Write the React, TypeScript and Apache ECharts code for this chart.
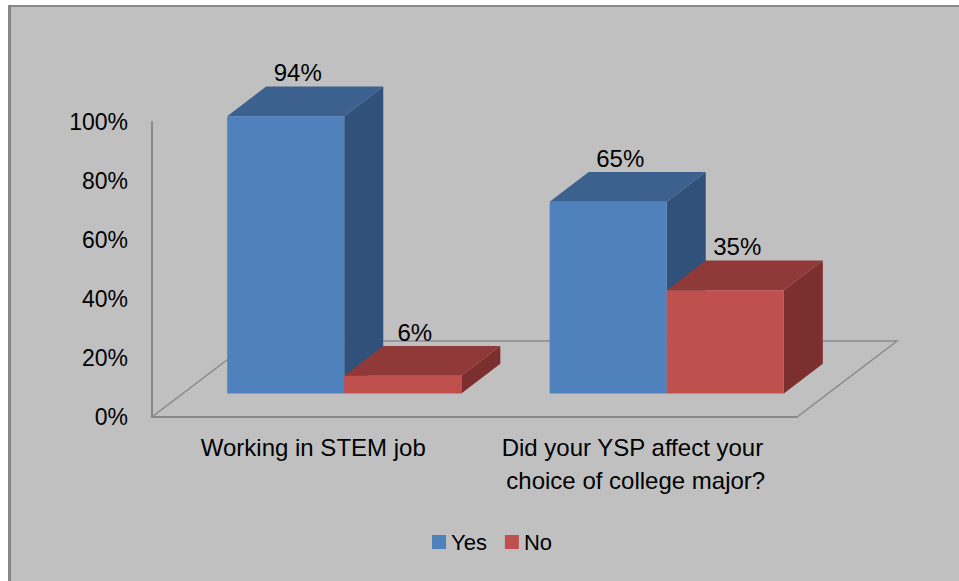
import React, { useEffect, useRef } from "react";
import * as echarts from "echarts";

const categories = ["Working in STEM job", "Did your YSP affect your choice of college major?"];
const yesValues = [0.94, 0.65];
const noValues = [0.06, 0.35];
const seriesNames = ["Yes", "No"];
const yTicks = { min: 0, max: 1, interval: 0.2 };

const FONT = "'Liberation Sans', Arial, sans-serif";
const FLOOR_DX = 100;
const FLOOR_DY = 76;
const BAR_OFFSET = 0.31;
const BAR_DEPTH = 0.39;
const BAR_FRAC = 0.363;

const COLORS = {
  Yes: { front: "#4f81bd", top: "#3c618e", side: "#30527a" },
  No: { front: "#c0504d", top: "#8f3a38", side: "#7b2f2e" },
};

function barRender(side: number, c: { front: string; top: string; side: string }) {
  return (params: any, api: any) => {
    const cat = api.value(0);
    const v = api.value(1);
    const base = api.coord([cat, 0]);
    const top = api.coord([cat, v]);
    const band = api.size([1, 0])[0];
    const w = band * BAR_FRAC;
    const ox = FLOOR_DX * BAR_OFFSET;
    const oy = -FLOOR_DY * BAR_OFFSET;
    const dx = FLOOR_DX * BAR_DEPTH;
    const dy = FLOOR_DY * BAR_DEPTH;
    const x0 = (side < 0 ? base[0] - w : base[0]) + ox;
    const x1 = x0 + w;
    const yb = base[1] + oy;
    const yt = top[1] + oy;
    return {
      type: "group",
      children: [
        {
          type: "polygon",
          shape: { points: [[x1, yt], [x1 + dx, yt - dy], [x1 + dx, yb - dy], [x1, yb]] },
          style: { fill: c.side },
        },
        {
          type: "polygon",
          shape: { points: [[x0, yt], [x0 + dx, yt - dy], [x1 + dx, yt - dy], [x1, yt]] },
          style: { fill: c.top },
        },
        {
          type: "rect",
          shape: { x: x0, y: yt, width: w, height: yb - yt },
          style: { fill: c.front },
        },
        {
          type: "text",
          x: x0 + w / 2 + 12,
          y: yt - dy - 14,
          style: {
            text: Math.round(v * 100) + "%",
            fill: "#000",
            font: `24px ${FONT}`,
            align: "center",
            verticalAlign: "middle",
          },
        },
      ],
    };
  };
}

function floorRender(params: any) {
  const cs = params.coordSys;
  const xl = cs.x;
  const xr = cs.x + cs.width;
  const yf = cs.y + cs.height;
  return {
    type: "polygon",
    shape: {
      points: [
        [xl, yf],
        [xr, yf],
        [xr + FLOOR_DX, yf - FLOOR_DY],
        [xl + FLOOR_DX, yf - FLOOR_DY],
      ],
    },
    style: { fill: "none", stroke: "#8a8a8a", lineWidth: 1.5 },
  };
}

export default function App() {
  const ref = useRef<HTMLDivElement>(null);
  useEffect(() => {
    document.body.style.margin = "0";
    if (!ref.current) return;
    const chart = echarts.init(ref.current, undefined, { renderer: "svg" });
    chart.setOption({
      animation: false,
      backgroundColor: "transparent",
      legend: {
        data: seriesNames,
        icon: "rect",
        itemWidth: 14,
        itemHeight: 14,
        itemGap: 18,
        left: 427,
        top: 526,
        textStyle: { fontSize: 22, color: "#000", fontFamily: FONT },
      },
      grid: {
        left: 152,
        right: 162,
        top: 122,
        bottom: 164,
        containLabel: false,
        outerBoundsMode: "none",
      },
      xAxis: {
        type: "category",
        data: categories,
        axisLine: { show: true, lineStyle: { color: "#888", width: 2 } },
        axisTick: { show: false },
        axisLabel: {
          interval: 0,
          margin: 14,
          fontSize: 24,
          lineHeight: 33,
          color: "#000",
          fontFamily: FONT,
          width: 300,
          overflow: "break",
          align: "center",
        },
        splitLine: { show: false },
      },
      yAxis: {
        type: "value",
        min: yTicks.min,
        max: yTicks.max,
        interval: yTicks.interval,
        axisLine: { show: true, lineStyle: { color: "#888", width: 2 } },
        axisTick: { show: false },
        splitLine: { show: false },
        axisLabel: {
          margin: 24,
          fontSize: 23,
          color: "#000",
          fontFamily: FONT,
          formatter: (v: number) => Math.round(v * 100) + "%",
        },
      },
      series: [
        {
          name: "floor",
          type: "custom",
          silent: true,
          clip: false,
          z: 1,
          renderItem: floorRender,
          data: [[0, 0]],
        },
        {
          name: "Yes",
          type: "custom",
          clip: false,
          z: 2,
          itemStyle: { color: COLORS.Yes.front },
          renderItem: barRender(-1, COLORS.Yes),
          data: yesValues.map((v, i) => [i, v]),
        },
        {
          name: "No",
          type: "custom",
          clip: false,
          z: 3,
          itemStyle: { color: COLORS.No.front },
          renderItem: barRender(1, COLORS.No),
          data: noValues.map((v, i) => [i, v]),
        },
      ],
    });
    return () => chart.dispose();
  }, []);
  return (
    <div style={{ position: "relative", width: 959, height: 581, overflow: "hidden", background: "#fff" }}>
      <div
        style={{
          position: "absolute",
          left: 8,
          top: 5,
          width: 1000,
          height: 620,
          background: "#c0c0c0",
          borderLeft: "3px solid #888",
          borderTop: "2px solid #888",
        }}
      />
      <div ref={ref} style={{ position: "absolute", left: 0, top: 0, width: 959, height: 581 }} />
    </div>
  );
}
